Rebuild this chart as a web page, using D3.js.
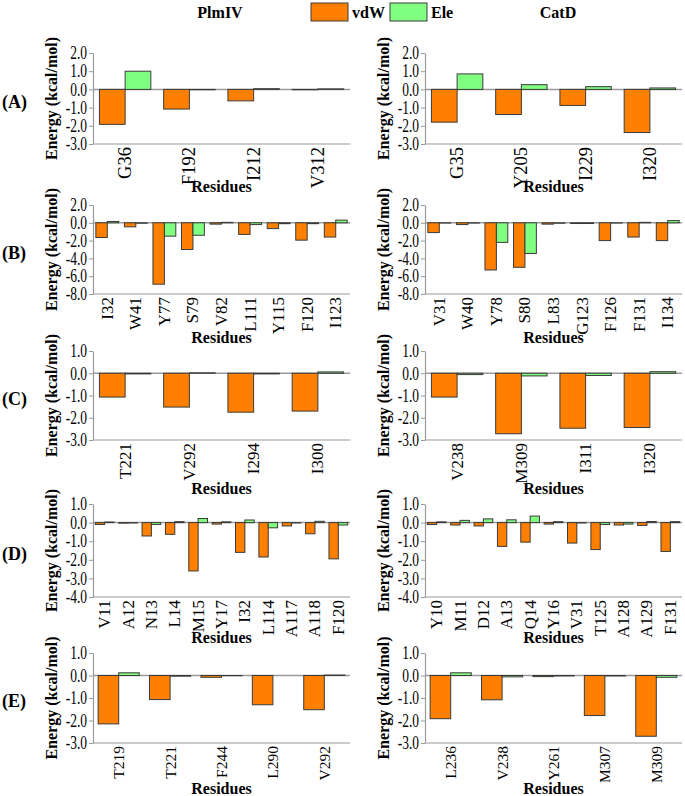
<!DOCTYPE html>
<html>
<head>
<meta charset="utf-8">
<script src="https://cdn.jsdelivr.net/npm/d3@7"></script>
<style>
  html, body { margin: 0; padding: 0; background: #fff; }
  svg { display: block; font-family: "Liberation Serif", "Times New Roman", serif; }
  svg text { font-family: "Liberation Serif", "Times New Roman", serif; }
</style>
</head>
<body>
<svg id="chart" width="685" height="796"></svg>
<script>
// ---------------- DATA ----------------
const seriesNames = ["vdW", "Ele"];
const groupTitles = ["PlmIV", "CatD"];
const panelLabels = ["(A)", "(B)", "(C)", "(D)", "(E)"];

// Row A
const resA_PlmIV = ["G36", "F192", "I212", "V312"];
const vdwA_PlmIV = [-1.92, -1.08, -0.63, -0.02];
const eleA_PlmIV = [1.0, -0.02, 0.04, 0.03];
const resA_CatD = ["G35", "Y205", "I229", "I320"];
const vdwA_CatD = [-1.8, -1.38, -0.88, -2.37];
const eleA_CatD = [0.85, 0.26, 0.15, 0.08];
const ticksA = [2, 1, 0, -1, -2, -3];

// Row B
const resB_PlmIV = ["I32", "W41", "Y77", "S79", "V82", "L111", "Y115", "F120", "I123"];
const vdwB_PlmIV = [-1.65, -0.45, -6.9, -3.0, -0.15, -1.3, -0.65, -1.95, -1.6];
const eleB_PlmIV = [0.15, -0.05, -1.5, -1.4, 0.05, -0.2, -0.1, -0.1, 0.3];
const resB_CatD = ["V31", "W40", "Y78", "S80", "L83", "G123", "F126", "F131", "I134"];
const vdwB_CatD = [-1.1, -0.2, -5.3, -5.0, -0.15, -0.08, -2.0, -1.6, -2.0];
const eleB_CatD = [-0.03, -0.03, -2.2, -3.45, -0.05, -0.08, -0.03, 0.05, 0.25];
const ticksB = [2, 0, -2, -4, -6, -8];

// Row C
const resC_PlmIV = ["T221", "V292", "I294", "I300"];
const vdwC_PlmIV = [-1.07, -1.52, -1.75, -1.7];
const eleC_PlmIV = [-0.03, 0.02, -0.03, 0.06];
const resC_CatD = ["V238", "M309", "I311", "I320"];
const vdwC_CatD = [-1.07, -2.72, -2.47, -2.44];
const eleC_CatD = [-0.06, -0.12, -0.1, 0.07];
const ticksC = [1, 0, -1, -2, -3];

// Row D
const resD_PlmIV = ["V11", "A12", "N13", "L14", "M15", "Y17", "I32", "L114", "A117", "A118", "F120"];
const vdwD_PlmIV = [-0.1, -0.03, -0.72, -0.63, -2.6, -0.08, -1.6, -1.85, -0.18, -0.6, -1.95];
const eleD_PlmIV = [0.03, -0.02, -0.1, 0.05, 0.22, 0.04, 0.14, -0.28, -0.02, 0.07, -0.13];
const resD_CatD = ["Y10", "M11", "D12", "A13", "Q14", "Y16", "V31", "T125", "A128", "A129", "F131"];
const vdwD_CatD = [-0.1, -0.13, -0.18, -1.28, -1.05, -0.08, -1.1, -1.45, -0.13, -0.15, -1.55];
const eleD_CatD = [0.04, 0.12, 0.2, 0.15, 0.35, 0.05, -0.02, -0.1, -0.08, 0.06, 0.05];
const ticksD = [1, 0, -1, -2, -3, -4];

// Row E
const resE_PlmIV = ["T219", "T221", "F244", "L290", "V292"];
const vdwE_PlmIV = [-2.15, -1.07, -0.08, -1.3, -1.52];
const eleE_PlmIV = [0.12, -0.03, -0.01, 0.0, 0.02];
const resE_CatD = ["L236", "V238", "Y261", "M307", "M309"];
const vdwE_CatD = [-1.92, -1.08, -0.05, -1.78, -2.7];
const eleE_CatD = [0.12, -0.06, -0.02, -0.02, -0.08];
const ticksE = [1, 0, -1, -2, -3];

// ---------------- ASSEMBLY ----------------
const rowsData = [
  { ticks: ticksA, panels: [[resA_PlmIV, vdwA_PlmIV, eleA_PlmIV], [resA_CatD, vdwA_CatD, eleA_CatD]] },
  { ticks: ticksB, panels: [[resB_PlmIV, vdwB_PlmIV, eleB_PlmIV], [resB_CatD, vdwB_CatD, eleB_CatD]] },
  { ticks: ticksC, panels: [[resC_PlmIV, vdwC_PlmIV, eleC_PlmIV], [resC_CatD, vdwC_CatD, eleC_CatD]] },
  { ticks: ticksD, panels: [[resD_PlmIV, vdwD_PlmIV, eleD_PlmIV], [resD_CatD, vdwD_CatD, eleD_CatD]] },
  { ticks: ticksE, panels: [[resE_PlmIV, vdwE_PlmIV, eleE_PlmIV], [resE_CatD, vdwE_CatD, eleE_CatD]] }
];

// ---------------- LAYOUT ----------------
const rowLayout = [
  { top: 53, bottom: 144, resY: 192, catSize: 18.5 },
  { top: 205, bottom: 294, resY: 343, catSize: 17 },
  { top: 351, bottom: 440, resY: 494, catSize: 17 },
  { top: 504, bottom: 597, resY: 643, catSize: 17 },
  { top: 653, bottom: 743, resY: 794, catSize: 15.5 }
];
const colLayout = [
  { x0: 93, x1: 350, titleX: 220 },
  { x0: 425, x1: 682, titleX: 558 }
];
const colors = { vdW: "#FF8000", Ele: "#80FF80" };
const barStroke = "#3a3a3a";
const axisGray = "#9a9a9a";
const serif = '"Liberation Serif", "Times New Roman", serif';
const tickSX = 0.75; // narrow, tall tick glyphs as in the reference

const svg = d3.select("#chart");

// Titles
groupTitles.forEach((t, i) => {
  svg.append("text")
    .attr("x", colLayout[i].titleX).attr("y", 18)
    .attr("text-anchor", "middle")
    .attr("font-weight", "bold").attr("font-size", 16)
    .text(t);
});

// Legend
const legendItems = [
  { name: seriesNames[0], x: 311 },
  { name: seriesNames[1], x: 390 }
];
legendItems.forEach(it => {
  svg.append("rect")
    .attr("x", it.x).attr("y", 3).attr("width", 37).attr("height", 18)
    .attr("fill", colors[it.name]).attr("stroke", barStroke).attr("stroke-width", 1);
  svg.append("text")
    .attr("x", it.x + 41).attr("y", 18)
    .attr("font-weight", "bold").attr("font-size", 16)
    .text(it.name);
});

rowsData.forEach((row, r) => {
  const L = rowLayout[r];
  const y = d3.scaleLinear()
    .domain([d3.min(row.ticks), d3.max(row.ticks)])
    .range([L.bottom, L.top]);

  // panel label
  svg.append("text")
    .attr("x", 2).attr("y", (L.top + L.bottom) / 2 + 9)
    .attr("font-weight", "bold").attr("font-size", 18)
    .text(panelLabels[r]);

  row.panels.forEach((p, c) => {
    const [cats, vdw, ele] = p;
    const C = colLayout[c];
    const g = svg.append("g");

    const x = d3.scaleBand().domain(cats).range([C.x0, C.x1])
      .paddingInner(0.2).paddingOuter(0.1);
    const xs = d3.scaleBand().domain(seriesNames).range([0, x.bandwidth()]).padding(0);

    // bottom line and zero line
    g.append("line")
      .attr("x1", C.x0).attr("x2", C.x1)
      .attr("y1", L.bottom).attr("y2", L.bottom)
      .attr("stroke", axisGray).attr("stroke-width", 1.2);
    g.append("line")
      .attr("x1", C.x0).attr("x2", C.x1)
      .attr("y1", y(0)).attr("y2", y(0))
      .attr("stroke", axisGray).attr("stroke-width", 1.5);

    // y axis
    const ax = g.append("g")
      .attr("transform", `translate(${C.x0},0)`)
      .call(d3.axisLeft(y).tickValues(row.ticks)
        .tickFormat(d => d.toFixed(1)).tickSize(4).tickSizeOuter(0).tickPadding(2));
    ax.attr("font-family", null).attr("font-size", null);
    ax.select(".domain").attr("stroke", axisGray).attr("stroke-width", 1.2);
    ax.selectAll(".tick line").attr("stroke", axisGray);
    ax.selectAll(".tick text")
      .style("font-family", serif)
      .attr("font-size", 18).attr("fill", "#000")
      .attr("x", -6 / tickSX)
      .attr("transform", `scale(${tickSX},1)`);

    // bars
    const recs = [];
    cats.forEach((cat, i) => {
      recs.push({ cat, s: "vdW", v: vdw[i] });
      recs.push({ cat, s: "Ele", v: ele[i] });
    });
    g.selectAll("rect.bar").data(recs).join("rect")
      .attr("class", "bar")
      .attr("x", d => x(d.cat) + xs(d.s))
      .attr("width", xs.bandwidth())
      .attr("y", d => Math.min(y(d.v), y(0)))
      .attr("height", d => Math.abs(y(d.v) - y(0)))
      .attr("fill", d => colors[d.s])
      .attr("stroke", barStroke).attr("stroke-width", 1);

    // category labels
    g.selectAll("text.cat").data(cats).join("text")
      .attr("class", "cat")
      .attr("transform", d => `translate(${x(d) + x.bandwidth() / 2},${L.bottom + 3}) rotate(-90)`)
      .attr("text-anchor", "end")
      .attr("dominant-baseline", "central")
      .attr("font-size", L.catSize)
      .text(d => d);

    // x title
    g.append("text")
      .attr("x", (C.x0 + C.x1) / 2).attr("y", L.resY)
      .attr("text-anchor", "middle")
      .attr("font-weight", "bold").attr("font-size", 16)
      .text("Residues");

    // y title
    g.append("text")
      .attr("transform", `translate(${C.x0 - 36},${(L.top + L.bottom) / 2}) rotate(-90)`)
      .attr("text-anchor", "middle")
      .attr("font-weight", "bold").attr("font-size", 16)
      .text("Energy (kcal/mol)");
  });
});
</script>
</body>
</html>
